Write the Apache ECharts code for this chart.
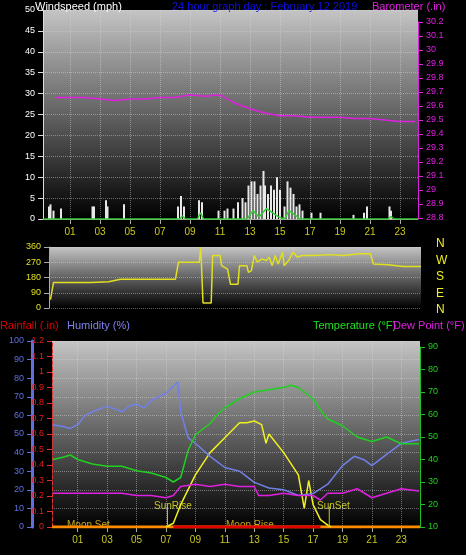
<!DOCTYPE html>
<html><head><meta charset="utf-8">
<script src="https://cdn.jsdelivr.net/npm/echarts@6/dist/echarts.min.js"></script>
<style>body{margin:0;background:#000}#c{width:466px;height:555px}</style></head>
<body><div id="c"></div>
<script>
const hourLabels = [1,3,5,7,9,11,13,15,17,19,21,23];
const baroTimes = [0,1,2,3,4,5,6,7,8,9,10,11,12,13,14,15,16,17,18,19,20,21,22,23,24];
const baroValues = [29.66,29.66,29.66,29.65,29.64,29.65,29.65,29.66,29.66,29.68,29.67,29.68,29.62,29.58,29.55,29.53,29.53,29.52,29.52,29.52,29.51,29.51,29.50,29.49,29.49];
const gustTimes = [-0.4,-0.3,-0.1,0.4,2.5,2.6,3.4,3.5,4.6,8.2,8.4,8.6,9.6,9.8,10.9,11.3,11.5,11.9,12.2,12.5,12.7,12.9,13.1,13.3,13.5,13.7,13.9,14.0,14.2,14.4,14.6,14.8,15.0,15.3,15.5,15.7,15.9,16.1,16.3,16.5,17.1,17.7,19.9,20.6,20.8,22.3,22.4];
const gustValues = [3,3.5,2,2.5,3,3,4.5,3,3.5,3,5.5,3,4.5,4,2,2,2.5,2.5,4,5,4,8,9,9,6,8,11.5,8,6,8,7,10,7,3,9,7.5,6,3,3.5,2,1.5,1.5,1,1.5,3,3,2];
const avgTimes = [-0.8,8.3,8.5,8.7,9.5,9.7,9.9,12.8,13.2,13.6,14.1,14.5,14.9,15.3,15.6,16.0,16.3,22.2,22.4,22.6,24.2];
const avgValues = [0,0,0.7,0,0,1.5,0,0,2,0.5,2.5,1.5,0.5,0,2,1,0,0,0.6,0,0];
const dirTimes = [-0.7,-0.5,0,1,2,3.2,4,5,6,7,7.7,7.9,8.5,9.3,9.4,9.55,10.1,10.2,10.7,10.8,11.2,11.4,11.9,12.0,12.5,12.6,12.8,13.0,13.2,13.5,13.8,14.0,14.2,14.4,14.6,14.9,15.0,15.3,15.6,15.9,16.2,17,18,19,20,20.8,21,22,23,24.2];
const dirValues = [50,150,150,150,150,155,170,170,170,170,170,270,270,270,360,30,30,310,310,250,230,140,140,250,250,210,220,310,270,290,280,300,250,310,260,330,250,280,330,300,310,310,315,310,320,320,260,255,245,245];
const tempTimes = [-0.7,0,0.5,1,2,3,4,5,6,7,7.5,8,8.5,9,10,10.5,11,12,13,14,15,15.5,16,17,17.5,18,19,20,21,22,23,24.2];
const tempValues = [40,41,42,40,38,37,37,35,34,32,30,32,44,51,56,60,63,67,70,71,72,73,72,67,62,58,55,50,48,50,47,47];
const humTimes = [-0.7,0,0.5,1,1.5,2,3,4,4.5,5,5.5,6,7,7.8,8,8.5,9,10,11,12,13,14,15,16,17,18,19,19.8,20.5,21,22,23,24.2];
const humValues = [55,54,53,55,60,62,65,62,65,66,64,68,72,78,62,48,45,38,32,30,24,21,20,17,18,23,33,38,36,33,39,45,47];
const dewTimes = [-0.7,0,1,2,3,4,5,6,7,7.5,8,9,10,11,12,13,13.3,14,15,16,17,17.5,18,19,20,21,22,23,24.2];
const dewValues = [25,25,25,25,25,25,24,24,23,24,28,29,28,29,28,28,24,24,25,24,24,22,25,25,27,23,25,27,26];
const solarTimes = [7,7.5,8,9,10,11,11.5,12,12.5,13,13.5,13.8,14,15,16,16.4,16.7,17,17.5,18,18.2];
const solarValues = [0,2,12,28,40,48,52,56,56,57,55,45,50,40,28,10,25,12,4,1,0];
const rainTimes = [-0.75,24.27];
const rainValues = [0,0];
const sunRise = 7.1, sunSet = 18.1;

const pair=(t,v)=>t.map((x,i)=>[x,v[i]]);
const bg={type:'linear',x:0,y:0,x2:0,y2:1,colorStops:[{offset:0,color:'#c4c4c4'},{offset:1,color:'#000'}]};
const F='Liberation Sans';
const gl={show:true,lineStyle:{color:'rgba(220,220,220,0.45)',type:'dotted'}};
const none={show:false};
const xa=(gi,min,max,show)=>({type:'value',gridIndex:gi,min,max,
  axisLine:{show:show,onZero:false,lineStyle:{color:'#aaa'}},axisTick:show?{show:true,customValues:hourLabels,lineStyle:{color:'#aaa'}}:none,
  splitLine:show?{...gl,customValues:hourLabels}:none,
  axisLabel:show?{show:true,customValues:hourLabels,color:'#c8c820',fontSize:10,fontFamily:F,formatter:v=>String(v).padStart(2,'0')}:none});
const al=(c,extra)=>({show:true,onZero:false,lineStyle:Object.assign({color:c},extra||{})});
const c=echarts.init(document.getElementById('c'));
c.setOption({backgroundColor:'#000',animation:false,
grid:[
 {left:43,right:48,top:10,height:209,show:true,backgroundColor:bg,borderWidth:0},
 {left:43,right:48,top:22,height:196},
 {left:49,right:45,top:247,height:61,show:true,backgroundColor:bg,borderWidth:0},
 {left:52,right:46,top:341,height:186,show:true,backgroundColor:bg,borderWidth:0},
 {left:52,right:46,top:347,height:180}
],
xAxis:[xa(0,-0.8,24.2,true),xa(1,-0.8,24.2,false),xa(2,-0.8,24.2,false),xa(3,-0.75,24.27,true),xa(4,-0.75,24.27,false)],
yAxis:[
 {type:'value',gridIndex:0,position:'left',min:0,max:50,interval:5,axisLine:al('#ddd'),axisTick:{show:true,lineStyle:{color:'#ddd'}},axisLabel:{color:'#fff',fontSize:9,fontFamily:F},splitLine:gl},
 {type:'value',gridIndex:1,position:'right',min:28.8,max:30.2,interval:0.1,axisLine:al('#e020e0'),axisTick:{show:true},axisLabel:{color:'#e020e0',fontSize:9,fontFamily:F,formatter:v=>String(+v.toFixed(1))},splitLine:none},
 {type:'value',gridIndex:2,position:'left',min:0,max:360,interval:90,axisLine:al('#aaa'),axisTick:{show:true},axisLabel:{color:'#e0e020',fontSize:9,fontFamily:F},splitLine:gl},
 {type:'value',gridIndex:3,position:'left',min:0,max:100,interval:10,offset:20,axisLine:al('#6070e0',{width:3}),axisTick:{show:true},axisLabel:{color:'#6070e0',fontSize:9,fontFamily:F},splitLine:gl},
 {type:'value',gridIndex:3,position:'left',min:0,max:1.2,interval:0.1,axisLine:al('#e03030',{type:'dashed'}),axisTick:{show:true},axisLabel:{color:'#e02020',fontSize:9,fontFamily:F,formatter:v=>String(+v.toFixed(1))},splitLine:none},
 {type:'value',gridIndex:4,position:'right',min:10,max:90,interval:10,axisLine:al('#20c020'),axisTick:{show:true},axisLabel:{color:'#20d020',fontSize:9,fontFamily:F},splitLine:none},
 {type:'value',gridIndex:3,position:'right',min:0,max:100,show:false}
],
series:[
 {type:'line',xAxisIndex:1,yAxisIndex:1,data:pair(baroTimes,baroValues),symbol:'none',lineStyle:{color:'#e020e0',width:1.5}},
 {type:'bar',xAxisIndex:0,yAxisIndex:0,data:pair(gustTimes,gustValues),barWidth:2,itemStyle:{color:'#e8e8e8'}},
 {type:'line',xAxisIndex:0,yAxisIndex:0,data:pair(avgTimes,avgValues),symbol:'none',lineStyle:{color:'#30d030',width:1.5}},
 {type:'line',xAxisIndex:2,yAxisIndex:2,data:pair(dirTimes,dirValues),symbol:'none',lineStyle:{color:'#e0e020',width:1.5}},
 {type:'line',xAxisIndex:3,yAxisIndex:4,data:pair(rainTimes,rainValues),symbol:'none',lineStyle:{color:'#ff8c00',width:3}},
 {type:'line',xAxisIndex:3,yAxisIndex:6,data:pair(solarTimes,solarValues),symbol:'none',lineStyle:{color:'#f0f020',width:1.5}},
 {type:'line',xAxisIndex:3,yAxisIndex:6,data:[[sunRise,0],[sunRise,11]],symbol:'none',lineStyle:{color:'#c8c820',width:1}},
 {type:'line',xAxisIndex:3,yAxisIndex:6,data:[[sunSet,0],[sunSet,11]],symbol:'none',lineStyle:{color:'#c8c820',width:1}},
 {type:'line',xAxisIndex:3,yAxisIndex:3,data:pair(humTimes,humValues),symbol:'none',lineStyle:{color:'#7080e8',width:1.5}},
 {type:'line',xAxisIndex:4,yAxisIndex:5,data:pair(tempTimes,tempValues),symbol:'none',lineStyle:{color:'#20d020',width:1.5}},
 {type:'line',xAxisIndex:4,yAxisIndex:5,data:pair(dewTimes,dewValues),symbol:'none',lineStyle:{color:'#e020e0',width:1.5}},
 {type:'line',xAxisIndex:3,yAxisIndex:4,data:[[7.5,0],[17.5,0]],symbol:'none',lineStyle:{color:'#e00000',width:3}}
],
graphic:[
 {type:'text',left:35,top:1,style:{text:'Windspeed (mph)',fill:'#fff',font:'11px '+F}},
 {type:'text',left:172,top:1,style:{text:'24 hour graph day : February 12 2019',fill:'#1010e0',font:'11px '+F}},
 {type:'text',left:372,top:1,style:{text:'Barometer (.in)',fill:'#e020e0',font:'11px '+F}},
 {type:'text',left:0,top:320,style:{text:'Rainfall (.in)',fill:'#e00000',font:'11px '+F}},
 {type:'text',left:67,top:320,style:{text:'Humidity (%)',fill:'#8080f0',font:'11px '+F}},
 {type:'text',left:313,top:320,style:{text:'Temperature (°F)',fill:'#20e020',font:'11px '+F}},
 {type:'text',left:393,top:320,style:{text:'Dew Point (°F)',fill:'#e020e0',font:'11px '+F}},
 {type:'text',left:154,top:501,style:{text:'SunRise',fill:'#c8c820',font:'10px '+F}},
 {type:'text',left:317,top:501,style:{text:'SunSet',fill:'#c8c820',font:'10px '+F}},
 {type:'text',left:67,top:520,style:{text:'Moon Set',fill:'#c8a820',font:'10px '+F}},
 {type:'text',left:226,top:520,style:{text:'Moon Rise',fill:'#c8a820',font:'10px '+F}},
 ...['N','W','S','E','N'].map((t,i)=>({type:'text',left:436,top:238+i*16.5,style:{text:t,fill:'#f0f020',font:'12px '+F}}))
]});
</script></body></html>
